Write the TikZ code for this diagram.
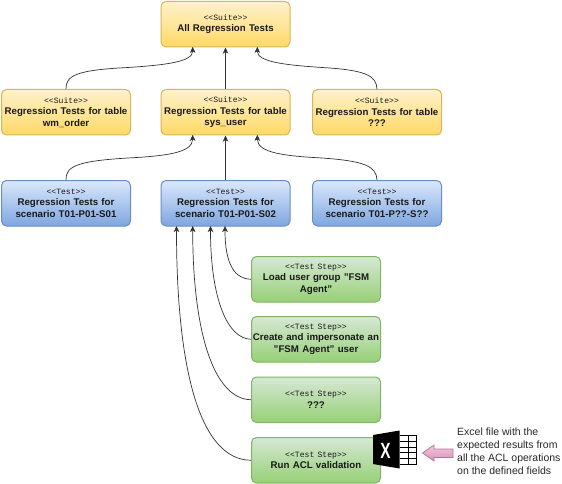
\documentclass[tikz,border=0pt]{standalone}
\usepackage{fontspec}
\setmainfont{Liberation Sans}
\setmonofont{Liberation Mono}
\usetikzlibrary{arrows.meta,shapes.arrows}
\definecolor{ytop}{HTML}{FFF2CC}\definecolor{ybot}{HTML}{FFD966}\definecolor{yln}{HTML}{D6B656}
\definecolor{btop}{HTML}{DAE8FC}\definecolor{bbot}{HTML}{7EA6E0}\definecolor{bln}{HTML}{6C8EBF}
\definecolor{gtop}{HTML}{D5E8D4}\definecolor{gbot}{HTML}{97D077}\definecolor{gln}{HTML}{82B366}
\definecolor{ptop}{HTML}{F0C8DC}\definecolor{pbot}{HTML}{DC90B8}\definecolor{pln}{HTML}{B5739D}
\tikzset{
 x=1pt,y=-1pt,
 boxbase/.style={rounded corners=5pt,minimum width=129pt,minimum height=45.5pt,inner sep=0pt,line width=1pt,align=center,text width=129pt,text=black!90,anchor=north west,font=\fontsize{9.7}{11.5}\selectfont\bfseries},
 suite/.style={boxbase,draw=yln,top color=ytop,bottom color=ybot},
 testbox/.style={boxbase,draw=bln,top color=btop,bottom color=bbot},
 stepbox/.style={boxbase,draw=gln,top color=gtop,bottom color=gbot},
 link/.style={draw=black!80,line width=0.7pt,-{Stealth[length=6pt,width=5.5pt,inset=1.5pt]}},
 note/.style={inner sep=0pt,anchor=north west,align=left,text=black!85,font=\fontsize{10.5}{13}\selectfont},
}
\newcommand{\stereo}[1]{{\fontsize{8.1}{11.5}\selectfont\ttfamily\mdseries <{}<#1>{}>}\\}
\begin{document}
\begin{tikzpicture}
\useasboundingbox (0,0) rectangle (562,484);
\node[suite] (all) at (160.5,1) {\stereo{Suite}All Regression Tests};
\node[suite] (wm) at (1,89) {\stereo{Suite}Regression Tests for table\\wm\_order};
\node[suite] (sys) at (160.5,89) {\stereo{Suite}Regression Tests for table\\sys\_user};
\node[suite] (unk) at (312,89) {\stereo{Suite}Regression Tests for table\\???};
\node[testbox] (s1) at (1,180) {\stereo{Test}Regression Tests for\\scenario T01-P01-S01};
\node[testbox] (s2) at (160.5,180) {\stereo{Test}Regression Tests for\\scenario T01-P01-S02};
\node[testbox] (s3) at (312,180) {\stereo{Test}Regression Tests for\\scenario T01-P??-S??};
\node[stepbox] (g1) at (251,256) {\stereo{Test Step}Load user group "FSM\\Agent"};
\node[stepbox] (g2) at (251,316) {\stereo{Test Step}Create and impersonate an\\"FSM Agent" user};
\node[stepbox] (g3) at (251,376.5) {\stereo{Test Step}???};
\node[stepbox] (g4) at (251,437) {\stereo{Test Step}Run ACL validation};
% free ends on the receiving boxes
\coordinate (allL) at (192.7,46.8);
\coordinate (allR) at (257.3,46.8);
\coordinate (sysL) at (192.7,134.8);
\coordinate (sysR) at (257.3,134.8);
\coordinate (s2a) at (225,226);
\coordinate (s2b) at (210.5,226);
\coordinate (s2c) at (192.7,226);
\coordinate (s2d) at (176.5,226);
% connectors
\draw[link] (all.south |- sys.north) -- (all.south);
\draw[link] (wm.north) .. controls (65.5,75) and (78,70) .. (128,67.5) .. controls (165,65) and (192.7,62) .. (allL);
\draw[link] (unk.north) .. controls (376.5,75) and (364,70) .. (322,67.5) .. controls (285,65) and (257.3,62) .. (allR);
\draw[link] (sys.south |- s2.north) -- (sys.south);
\draw[link] (s1.north) .. controls (65.5,166) and (78,161) .. (128,158) .. controls (165,156) and (192.7,153) .. (sysL);
\draw[link] (s3.north) .. controls (376.5,166) and (364,161) .. (322,158) .. controls (285,156) and (257.3,153) .. (sysR);
\draw[link] (g1.west) .. controls (235,279) and (225,265) .. (s2a);
\draw[link] (g2.west) .. controls (228,339) and (210.5,300) .. (s2b);
\draw[link] (g3.west) .. controls (213,399) and (192.7,330) .. (s2c);
\draw[link] (g4.west) .. controls (200,460) and (176.5,370) .. (s2d);
% Excel icon
\fill[black] (373,435) -- (399.5,430.5) -- (399.5,468.5) -- (373,464) -- cycle;
\node[inner sep=0pt,text=white,font=\fontsize{22}{22}\selectfont\bfseries] (xl) at (385.5,450.5) {\scalebox{0.7}[1]{X}};
\draw[black,line width=1pt] (399.5,435.5) -- (416.5,435.5) -- (416.5,464.5) -- (399.5,464.5);
\foreach \yy in {441.5,447,452.5,458.5} \draw[black,line width=0.9pt] (399.5,\yy) -- (416.5,\yy);
\draw[black,line width=0.9pt] (408,435.5) -- (408,464.5);
% pink arrow
\draw[pln,line width=0.7pt,top color=ptop,bottom color=pbot] (422.5,453) -- (434,445) -- (434,449) -- (453,449) -- (453,457.5) -- (434,457.5) -- (434,461) -- cycle;
\node[note] (txt) at (457,427.5) {Excel file with the\\expected results from\\all the ACL operations\\on the defined fields};
\end{tikzpicture}
\end{document}
